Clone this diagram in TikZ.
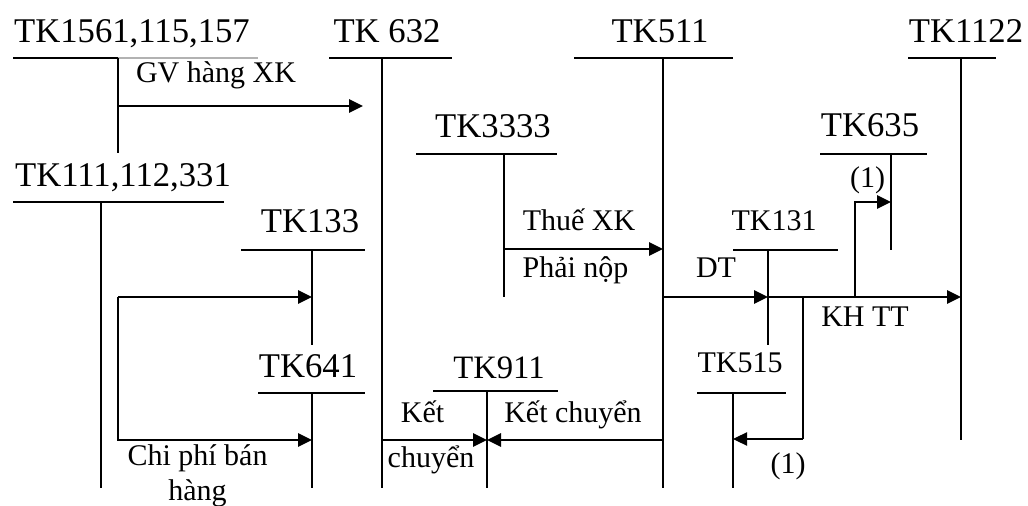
\documentclass[tikz,border=0pt]{standalone}
\usepackage{fontspec}
\setmainfont{Liberation Serif}
\usetikzlibrary{arrows.meta}
\begin{document}
\begin{tikzpicture}[x=0.75pt,y=-0.75pt,
  ttl/.style={font=\fontsize{26}{30}\selectfont, anchor=base, inner sep=0pt},
  sttl/.style={font=\fontsize{22.5}{26}\selectfont, anchor=base, inner sep=0pt},
  lbl/.style={font=\fontsize{22.5}{26}\selectfont, anchor=base, inner sep=0pt},
  hbar/.style={line width=1.0pt},
  vbar/.style={line width=1.4pt},
  arr/.style={line width=1.4pt, -{Triangle[length=10.5pt,width=10pt]}},
  conn/.style={line width=1.4pt}]
\useasboundingbox[fill=white] (0,0) rectangle (1028,506);

% ---- account titles ----
\node[ttl] (t1561) at (132,43) {TK1561,115,157};
\node[ttl] (t632) at (387,43) {TK 632};
\node[ttl] (t511) at (660,43) {TK511};
\node[ttl] (t1122) at (966,43) {TK1122};
\node[ttl] (t3333) at (493,138) {TK3333};
\node[ttl] (t635) at (870,137) {TK635};
\node[ttl] (t111) at (123,187) {TK111,112,331};
\node[ttl] (t133) at (310,233) {TK133};
\node[sttl] (t131) at (774,230) {TK131};
\node[ttl] (t641) at (308,377) {TK641};
\node[ttl,font=\fontsize{24.5}{28}\selectfont] (t911) at (499,378) {TK911};
\node[sttl] (t515) at (740,372) {TK515};

% ---- T-account bars ----
\draw[vbar] (13,58) -- (118,58);
\draw[hbar,gray!60] (118,58) -- (258,58);
\draw[vbar] (118,58) -- (118,153);
\draw[hbar] (329,58) -- (452,58);  \draw[vbar] (382,58) -- (382,488);
\draw[hbar] (574,58) -- (733,58);  \draw[vbar] (663,58) -- (663,488);
\draw[hbar] (908,58) -- (996,58);  \draw[vbar] (961,58) -- (961,440);
\draw[hbar] (416,154) -- (557,154); \draw[vbar] (504,154) -- (504,297);
\draw[vbar] (820,154) -- (927,154); \draw[vbar] (891,154) -- (891,250);
\draw[hbar] (13,202) -- (224,202); \draw[vbar] (101,202) -- (101,488);
\draw[hbar] (241,250) -- (365,250); \draw[vbar] (312,250) -- (312,345);
\draw[hbar] (733,250) -- (838,250); \draw[hbar] (768,250) -- (768,345);
\draw[hbar] (258,393) -- (365,393); \draw[vbar] (312,393) -- (312,488);
\draw[vbar] (433,391) -- (558,391); \draw[vbar] (487,391) -- (487,488);
\draw[hbar] (697,393) -- (786,393); \draw[hbar] (733,393) -- (733,488);

% ---- connector end points ----
\coordinate (gvS) at (118,106);  \coordinate (gvE) at (363,106);
\coordinate (thS) at (504,249);  \coordinate (thE) at (663,249);
\coordinate (dtS) at (663,297);  \coordinate (dtE) at (768,297);
\coordinate (khE) at (961,297);
\coordinate (upS) at (855,297);  \coordinate (upK) at (855,202); \coordinate (upE) at (891,202);
\coordinate (dnS) at (803,297);  \coordinate (dnK) at (803,439); \coordinate (dnE) at (733,439);
\coordinate (cpS) at (118,297);  \coordinate (cpE) at (312,297);
\coordinate (cpK) at (118,440);  \coordinate (cpF) at (312,440);
\coordinate (kcL) at (382,440);  \coordinate (kcM) at (487,440); \coordinate (kcR) at (663,440);

% ---- connectors ----
\draw[arr] (gvS) -- (gvE);
\draw[arr] (thS) -- (thE);
\draw[arr] (dtS) -- (dtE);
\draw[arr] (dtE) -- (khE);
\draw[arr] (upS) -- (upK) -- (upE);
\draw[conn] (dnS) -- (dnK);
\draw[line width=0.8pt, -{Triangle[length=10.5pt,width=10pt]}] (dnK) -- (dnE);
\draw[arr] (cpS) -- (cpE);
\draw[arr] (cpS) -- (cpK) -- (cpF);
\draw[arr] (kcL) -- (kcM);
\draw[arr] (kcR) -- (kcM);

% ---- labels ----
\node[lbl] (lgv) at (216,83) {GV hàng XK};
\node[lbl] (lth) at (579,230) {Thuế XK};
\node[lbl] (lpn) at (575.5,277) {Phải nộp};
\node[lbl] (ldt) at (716,277) {DT};
\node[lbl] (l1a) at (867.5,188) {(1)};
\node[lbl] (lkh) at (865,326) {KH TT};
\node[lbl] (l1b) at (788,473) {(1)};
\node[lbl] (lket) at (422.5,422) {Kết};
\node[lbl] (lkc) at (573,422) {Kết chuyển};
\node[lbl] (lchu) at (431,467) {chuyển};
\node[lbl] (lcp) at (197.5,465) {Chi phí bán};
\node[lbl] (lhg) at (197.5,500) {hàng};
\end{tikzpicture}
\end{document}
